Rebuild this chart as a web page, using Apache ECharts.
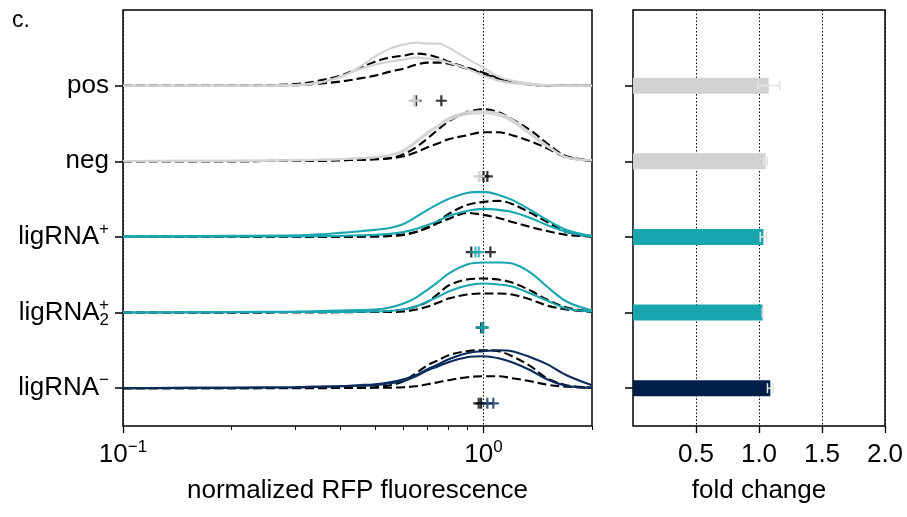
<!DOCTYPE html>
<html><head><meta charset="utf-8">
<script src="https://cdn.jsdelivr.net/npm/echarts@6/dist/echarts.min.js"></script>
<style>html,body{margin:0;padding:0;background:#fff}#c{width:907px;height:517px}</style>
</head><body><div id="c"></div>
<script>
// ---------- data ----------
const categories = ['pos', 'neg', 'ligRNA+', 'ligRNA2+', 'ligRNA-'];
const xGrid = [0.1,0.2,0.3,0.35,0.4,0.45,0.5,0.55,0.6,0.65,0.7,0.75,0.8,0.9,1.0,1.1,1.2,1.35,1.5,1.7,2.0];

// density curves (height above baseline): colored = sample replicates, ref = dashed reference
const posColorA = [0,0,0.5,3,8,18,29,37,41,43,42,42,38,27,18,9,5,2,0.5,0,0];
const posColorB = [0,0,0.5,3,9,16,21,24,26,28,27,26,23,17,10,5,2.5,1,0.3,0,0];
const posRefA   = [0,0,1.5,5,10,17,24,28,30,32,31,28,24,18,13,7.5,3.5,1,0.3,0,0];
const posRefB   = [0,0,0.5,2,4,7,10,14,17,21,23,23,22,17,12,7,3.5,1,0.3,0,0];

const negColorA = [0.3,0.5,1,1.5,2,3,4,6,11,20,29,36,43,49,50,48,42,28,16,4,1];
const negColorB = [0.3,0.5,1,1.5,2,3,4,6,10,19,28,35,41,47,48,46,40,27,15,4,1];
const negRefA   = [0,0,0.5,0.5,1,1.5,2,3,7,14,23,32,40,49,52,49,42,31,18,5,1];
const negRefB   = [0,0,0.5,0.5,1,1.5,2,3,5,9,14,18,22,26,29,29,26,20,13,4,0.5];

const ligPColorA = [0.5,1,1.5,2.5,4,5.5,7,9,13,20,27,33,38,44,45,42,37,27,17,7,1];
const ligPColorB = [0,0.3,0.5,0.8,1,1.5,2,3,5,8,12,16,21,26,28,27,25,19,12,5,0.5];
const ligPRefA   = [0,0,0,0,0.3,0.3,0.5,1,2,5,10,16,23,32,35,36,33,24,15,5,0.3];
const ligPRefB   = [0,0,0,0,0.3,0.3,0.5,1,2.5,5,9,14,18,24,22,19,15,10,6,2,0.3];

const lig2ColorA = [0,0.5,1,1.5,2,2.5,3,5,9,15,23,31,39,48,50,50,49,40,26,11,2];
const lig2ColorB = [0,0.3,0.5,0.5,0.5,0.8,1,1.5,3,6,11,16,21,27,29,28,26,19,12,4,1];
const lig2RefA   = [0,0,0.3,0.3,0.5,0.5,1,1.5,3,6,11,19,27,33,34,33,30,22,13,5,1];
const lig2RefB   = [0,0,0.3,0.3,0.3,0.5,0.5,0.5,1,3,6,10,14,18,19,19,18,13,7,3,0.7];

const ligMColorA = [0,0.5,1,1.5,2,3,4,6,9,13,19,24,29,35,37,38,37,31,24,13,3];
const ligMColorB = [0,0.5,1,1.5,2,2.5,3,5,7,12,18,22,26,31,32,30,26,18,9,2.5,0.3];
const ligMRefA   = [0,0,0.3,0.3,0.5,0.5,1,3,7,15,23,28,33,37,38,37,32,22,10,3,0.5];
const ligMRefB   = [0,0,0,0,0.3,0.3,0.5,0.5,1,2,4,6,8,11,12,12,10,7,3.5,1.5,0.3];

// medians ("+" markers)
const colorMedians = [[0.64,0.645],[0.97,0.975],[0.95,0.97],[0.99,1.0],[1.025,1.065]];
const refMedians   = [[0.65,0.764],[1.0,1.025],[0.925,1.045],[0.985,0.995],[0.97,0.985]];

// fold change bars
const foldChange = [1.077, 1.053, 1.035, 1.029, 1.09];
const foldErr    = [0.087, 0.014, 0.025, 0.003, 0.023];

// axis ticks
const leftMajorTicks = [0.1, 1];
const leftMinorTicks = [0.2,0.3,0.4,0.5,0.6,0.7,0.8,0.9,2];
const rightTicks = [0.5, 1.0, 1.5, 2.0];

// ---------- style ----------
const GRAY = '#d3d3d3', TEAL = '#1aa6b0', NAVY = '#0b2b5c';
const lineColors = [GRAY, GRAY, TEAL, TEAL, NAVY];
const barColors = ['#d1d3d2', '#d1d3d2', '#18a5ae', '#18a5ae', '#021f47'];
const FONT = "'Liberation Sans', Arial, sans-serif";
const FS = 26;
const unitPx = 416 / 5.5;
const ridgeScale = 1 / unitPx;
const markerOffset = 0.2;
const PLUS = 'path://M4,0H6V4H10V6H6V10H4V6H0V4H4Z';

const colorCurves = [[posColorA,posColorB],[negColorA,negColorB],[ligPColorA,ligPColorB],[lig2ColorA,lig2ColorB],[ligMColorA,ligMColorB]];
const refCurves = [[posRefA,posRefB],[negRefA,negRefB],[ligPRefA,ligPRefB],[lig2RefA,lig2RefB],[ligMRefA,ligMRefB]];

const labelText = {
  'pos': 'pos', 'neg': 'neg',
  'ligRNA+': 'ligRNA{sup|+}',
  'ligRNA2+': 'ligRNA{sub|2}{sup0|+}',
  'ligRNA-': 'ligRNA{sup|\u2212}'
};
const nCat = categories.length;
const baseOf = i => nCat - 1 - i;

const series = [];
categories.forEach((c, i) => {
  const base = baseOf(i);
  refCurves[i].forEach(arr => series.push({
    type: 'line', xAxisIndex: 0, yAxisIndex: 0, smooth: 0.35, symbol: 'none', silent: true,
    lineStyle: {color: '#000', width: 2.1, type: [9, 4]}, z: 3,
    data: xGrid.map((x, j) => [x, base + arr[j] * ridgeScale])
  }));
  colorCurves[i].forEach(arr => series.push({
    type: 'line', xAxisIndex: 0, yAxisIndex: 0, smooth: 0.35, symbol: 'none', silent: true,
    lineStyle: {color: lineColors[i], width: 2.1}, z: 4,
    data: xGrid.map((x, j) => [x, base + arr[j] * ridgeScale])
  }));
});
categories.forEach((c, i) => {
  series.push({
    type: 'scatter', xAxisIndex: 0, yAxisIndex: 0, symbol: PLUS, symbolSize: 11, z: 5,
    itemStyle: {color: '#000'},
    data: refMedians[i].map(x => [x, baseOf(i) - markerOffset])
  });
  series.push({
    type: 'scatter', xAxisIndex: 0, yAxisIndex: 0, symbol: PLUS, symbolSize: 11, z: 6,
    itemStyle: {color: lineColors[i]},
    data: colorMedians[i].map(x => [x, baseOf(i) - markerOffset])
  });
});
// bars + error bars
series.push({
  type: 'bar', xAxisIndex: 2, yAxisIndex: 2, barWidth: 16, z: 3,
  data: foldChange.map((v, i) => ({value: v, itemStyle: {color: barColors[i]}}))
});
series.push({
  type: 'custom', xAxisIndex: 2, yAxisIndex: 2, z: 4,
  data: foldChange.map((v, i) => [v, i, foldErr[i]]),
  encode: {x: 0, y: 1},
  renderItem: (params, api) => {
    const v = api.value(0), i = api.value(1), e = api.value(2);
    const lo = api.coord([v - e, i]), hi = api.coord([v + e, i]);
    const h = 5;
    const st = {stroke: '#e2e2e2', lineWidth: 1.5};
    return {type: 'group', children: [
      {type: 'line', shape: {x1: lo[0], y1: lo[1], x2: hi[0], y2: hi[1]}, style: st},
      {type: 'line', shape: {x1: lo[0], y1: lo[1]-h, x2: lo[0], y2: lo[1]+h}, style: st},
      {type: 'line', shape: {x1: hi[0], y1: hi[1]-h, x2: hi[0], y2: hi[1]+h}, style: st}
    ]};
  }
});

const txt = {color: '#000', fontFamily: FONT, fontSize: FS};
const noLine = {show: false, onZero: false};
const option = {
  animation: false,
  backgroundColor: '#fff',
  title: {text: 'c.', left: 7, top: 4, textStyle: {color: '#000', fontFamily: FONT, fontSize: 23, fontWeight: 'normal'}},
  grid: [
    {left: 123, right: 315, top: 10, bottom: 91, show: true, borderColor: '#000', borderWidth: 1.5, backgroundColor: 'transparent'},
    {left: 633, right: 22, top: 10, bottom: 91, show: true, borderColor: '#000', borderWidth: 1.5, backgroundColor: 'transparent'},
    {left: 633, right: 22, top: 10 + unitPx * 0.5, bottom: 91},
    {left: 123, right: 315, top: 10, bottom: 91}
  ],
  xAxis: [
    {type: 'log', logBase: 10, gridIndex: 0, position: 'bottom', min: 0.1, max: 2,
     axisLine: noLine,
     axisTick: {show: true, length: 7, lineStyle: {color: '#000', width: 1.3}, customValues: leftMajorTicks},
     axisLabel: {show: true, margin: 13, customValues: leftMajorTicks, ...txt,
       formatter: v => (Math.abs(v - 0.1) < 1e-9 ? '10{s|\u22121}' : (Math.abs(v - 1) < 1e-9 ? '10{s|0}' : '')),
       rich: {s: {fontFamily: FONT, fontSize: 17, color: '#000', verticalAlign: 'top', lineHeight: 16}},
       lineHeight: 32},
     splitLine: {show: true, lineStyle: {color: '#000', type: [1.5, 2], width: 1}},
     name: 'normalized RFP fluorescence', nameLocation: 'middle', nameGap: 52, nameTextStyle: txt},
    {type: 'value', gridIndex: 3, position: 'bottom', min: Math.log10(0.1), max: Math.log10(2),
     axisLine: noLine, axisLabel: {show: false}, splitLine: {show: false},
     axisTick: {show: true, length: 4, lineStyle: {color: '#000', width: 1}, customValues: leftMinorTicks.map(v => Math.log10(v))}},
    {type: 'value', gridIndex: 2, min: 0, max: 2, show: false, axisLine: noLine},
    {type: 'value', gridIndex: 1, position: 'bottom', min: 0, max: 2, interval: 0.5,
     axisLine: noLine,
     axisTick: {show: true, length: 7, lineStyle: {color: '#000', width: 1.3}, customValues: rightTicks},
     axisLabel: {margin: 13, customValues: rightTicks, ...txt, lineHeight: 32, formatter: v => v.toFixed(1)},
     splitLine: {show: true, lineStyle: {color: '#000', type: [1.5, 2], width: 1}},
     name: 'fold change', nameLocation: 'middle', nameGap: 52, nameTextStyle: txt}
  ],
  yAxis: [
    {type: 'value', gridIndex: 0, position: 'left', min: -0.5, max: nCat,
     axisLine: noLine, splitLine: {show: false},
     axisTick: {show: true, length: 8, lineStyle: {color: '#000', width: 1.5}, customValues: categories.map((c, i) => baseOf(i))},
     axisLabel: {show: true, margin: 14, customValues: categories.map((c, i) => baseOf(i)), ...txt, lineHeight: 32,
       formatter: v => labelText[categories[nCat - 1 - Math.round(v)]],
       rich: {
         sup: {fontFamily: FONT, fontSize: 17, color: '#000', verticalAlign: 'top', lineHeight: 16},
         sup0: {fontFamily: FONT, fontSize: 17, color: '#000', verticalAlign: 'top', lineHeight: 16, width: 0, align: 'right'},
         sub: {fontFamily: FONT, fontSize: 17, color: '#000', verticalAlign: 'bottom', lineHeight: 16, align: 'right'}
       }}},
    {type: 'value', gridIndex: 1, position: 'left', min: -0.5, max: nCat,
     axisLine: noLine, splitLine: {show: false}, axisLabel: {show: false},
     axisTick: {show: true, length: 8, lineStyle: {color: '#000', width: 1.5}, customValues: categories.map((c, i) => baseOf(i))}},
    {type: 'category', gridIndex: 2, inverse: true, data: categories, show: false, axisLine: noLine},
    {type: 'value', gridIndex: 3, min: 0, max: 1, show: false, axisLine: noLine}
  ],
  series: series
};
const chart = echarts.init(document.getElementById('c'));
chart.setOption(option);
</script></body></html>
